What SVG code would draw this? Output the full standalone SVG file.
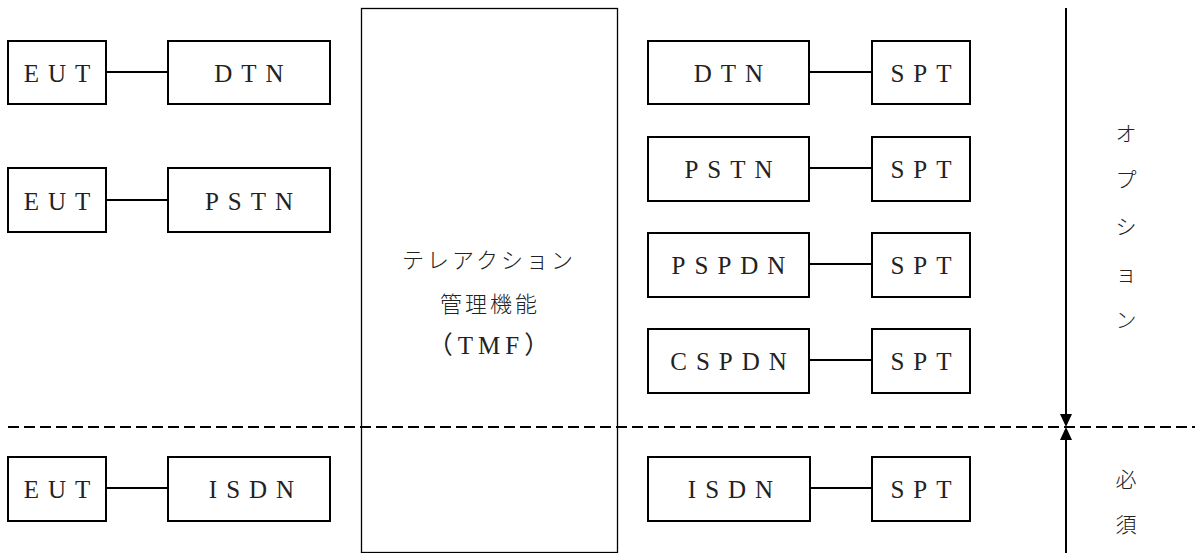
<svg xmlns="http://www.w3.org/2000/svg" width="1195" height="553" viewBox="0 0 1195 553">
<style>
.box{fill:#fff;stroke:#000;stroke-width:2}
.tmf{fill:#fff;stroke:#000;stroke-width:1.3}
.lbl{font-family:"Liberation Serif","Noto Sans CJK JP",serif;font-size:25px;letter-spacing:9px;fill:#222;text-anchor:middle;dominant-baseline:central}
.jp{font-family:"Noto Sans CJK JP",sans-serif;font-size:21px;fill:#222;text-anchor:middle;dominant-baseline:central;font-weight:300}
.ln{stroke:#000;stroke-width:2;fill:none}
</style>
<rect width="1195" height="553" fill="#fff"/>
<g id="tmf">
<rect class="tmf" x="361.5" y="8.5" width="256" height="544"/>
<text class="jp" x="489" y="258" style="font-size:22px" letter-spacing="3">テレアクション</text>
<text class="jp" x="490" y="302" style="font-size:22px" letter-spacing="3">管理機能</text>
<text class="lbl" x="491" y="345" style="letter-spacing:5px">（TMF）</text>
</g>
<g id="eut1"><rect class="box" x="8" y="41" width="98" height="63"/><text class="lbl" x="61.5" y="73">EUT</text></g>
<g id="dtn1"><rect class="box" x="168" y="41" width="162" height="63"/><text class="lbl" x="253.5" y="73">DTN</text></g>
<g id="eut2"><rect class="box" x="8" y="168" width="98" height="64"/><text class="lbl" x="61.5" y="201">EUT</text></g>
<g id="pstn1"><rect class="box" x="168" y="168" width="162" height="64"/><text class="lbl" x="253.5" y="201">PSTN</text></g>
<g id="eut3"><rect class="box" x="8" y="457" width="98" height="64"/><text class="lbl" x="61.5" y="489">EUT</text></g>
<g id="isdn1"><rect class="box" x="168" y="457" width="162" height="64"/><text class="lbl" x="256" y="489">ISDN</text></g>
<g id="dtn2"><rect class="box" x="648" y="41" width="161" height="63"/><text class="lbl" x="733" y="73">DTN</text></g>
<g id="spt1"><rect class="box" x="872" y="41" width="98" height="63"/><text class="lbl" x="925.5" y="73">SPT</text></g>
<g id="pstn2"><rect class="box" x="648" y="137" width="161" height="64"/><text class="lbl" x="733" y="169">PSTN</text></g>
<g id="spt2"><rect class="box" x="872" y="137" width="98" height="64"/><text class="lbl" x="925.5" y="169">SPT</text></g>
<g id="pspdn"><rect class="box" x="648" y="233" width="161" height="64"/><text class="lbl" x="733" y="265">PSPDN</text></g>
<g id="spt3"><rect class="box" x="872" y="233" width="98" height="64"/><text class="lbl" x="925.5" y="265">SPT</text></g>
<g id="cspdn"><rect class="box" x="648" y="329" width="161" height="64"/><text class="lbl" x="733" y="361">CSPDN</text></g>
<g id="spt4"><rect class="box" x="872" y="329" width="98" height="64"/><text class="lbl" x="925.5" y="361">SPT</text></g>
<g id="isdn2"><rect class="box" x="648" y="457" width="162" height="64"/><text class="lbl" x="735" y="489">ISDN</text></g>
<g id="spt5"><rect class="box" x="872" y="457" width="98" height="64"/><text class="lbl" x="925.5" y="489">SPT</text></g>
<g id="option">
<text class="jp" x="1126" y="132">オ</text>
<text class="jp" x="1126" y="178">プ</text>
<text class="jp" x="1126" y="225">シ</text>
<text class="jp" x="1126" y="272">ョ</text>
<text class="jp" x="1126" y="318">ン</text>
</g>
<g id="required">
<text class="jp" x="1126" y="478">必</text>
<text class="jp" x="1126" y="523">須</text>
</g>
<g id="connectors">
<line class="ln" x1="106" y1="72" x2="168" y2="72"/>
<line class="ln" x1="106" y1="200" x2="168" y2="200"/>
<line class="ln" x1="106" y1="488" x2="168" y2="488"/>
<line class="ln" x1="809" y1="72" x2="872" y2="72"/>
<line class="ln" x1="809" y1="168" x2="872" y2="168"/>
<line class="ln" x1="809" y1="264" x2="872" y2="264"/>
<line class="ln" x1="809" y1="360" x2="872" y2="360"/>
<line class="ln" x1="810" y1="488" x2="872" y2="488"/>
<line x1="8" y1="427" x2="1195" y2="427" stroke="#000" stroke-width="1.8" stroke-dasharray="11,5"/>
<line class="ln" x1="1066" y1="8" x2="1066" y2="416"/>
<line class="ln" x1="1066" y1="438" x2="1066" y2="553"/>
<polygon points="1060,414 1072,414 1066,427" fill="#000"/>
<polygon points="1060,440 1072,440 1066,427" fill="#000"/>
</g>
</svg>
